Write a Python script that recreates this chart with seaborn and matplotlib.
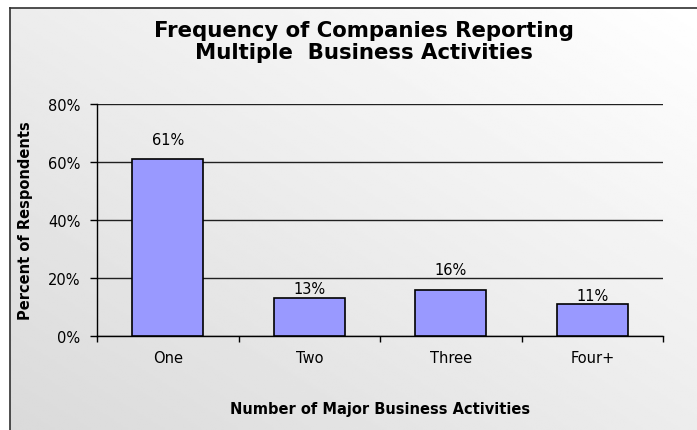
import numpy as np
import pandas as pd
import matplotlib
matplotlib.use("Agg")
import matplotlib.pyplot as plt
from matplotlib.ticker import PercentFormatter, FixedLocator
import seaborn as sns

# Share of respondents by number of major business activities
categories = ["One", "Two", "Three", "Four+"]
percent = [61, 13, 16, 11]
y_ticks = [0, 20, 40, 60, 80]

df = pd.DataFrame({"activities": categories, "percent": percent})

sns.set_style("white")
plt.rcParams["font.family"] = ["DejaVu Sans"]
plt.rcParams["text.color"] = "black"
plt.rcParams["axes.labelcolor"] = "black"
plt.rcParams["xtick.color"] = "black"
plt.rcParams["ytick.color"] = "black"

W, H = 697, 431
fig = plt.figure(figsize=(W / 100, H / 100), dpi=100)
fig.patch.set_facecolor("white")

# Soft diagonal gradient panel with a dark border on the left and top
bg = fig.add_axes([10 / W, 0, 1 - 10 / W, 1 - 9 / H], zorder=0)
gx, gy = np.meshgrid(np.linspace(0, 1, 300), np.linspace(0, 1, 200))
t = np.clip((gx + (1 - gy)) / 2, 0, 1)  # 0 at bottom-left, 1 at top-right
bg.imshow(0.855 + 0.145 * t, cmap="gray", vmin=0, vmax=1, aspect="auto",
          extent=[0, 1, 0, 1], origin="upper", interpolation="bilinear")
bg.set_xlim(0, 1)
bg.set_ylim(0, 1)
bg.set_xticks([])
bg.set_yticks([])
for side in ("right", "bottom"):
    bg.spines[side].set_visible(False)
for side in ("left", "top"):
    bg.spines[side].set_color("#303030")
    bg.spines[side].set_linewidth(1.2)

ax = fig.add_axes([97 / W, 1 - 337 / H, (663 - 97) / W, (337 - 105) / H], zorder=1)
ax.patch.set_alpha(0)

sns.barplot(data=df, x="activities", y="percent", color="#9999ff",
            saturation=1, width=0.5, edgecolor="black", linewidth=1.2, ax=ax,
            zorder=3)

ax.set_ylim(0, 80)
ax.set_xlim(-0.5, 3.5)
ax.yaxis.set_major_locator(FixedLocator(y_ticks))
ax.yaxis.set_major_formatter(PercentFormatter(decimals=0))
ax.grid(axis="y", color="#202020", linewidth=1, zorder=0)
ax.set_axisbelow(True)

for side in ("top", "right"):
    ax.spines[side].set_visible(False)
for side in ("left", "bottom"):
    ax.spines[side].set_color("black")
    ax.spines[side].set_linewidth(1)

ax.tick_params(axis="y", which="major", direction="out", length=5, width=1,
               color="black", labelsize=10.5, pad=7, left=True)
ax.tick_params(axis="x", which="major", length=0, labelsize=10.5, pad=10)
ax.set_xticks(np.arange(-0.5, 4, 1), minor=True)
ax.tick_params(axis="x", which="minor", direction="out", length=4, width=1,
               color="black", bottom=True)

# Value labels above each bar
label_pads = [9, 2, 9, 1]
for bar, val, pad in zip(ax.patches, percent, label_pads):
    ax.annotate(f"{val}%", (bar.get_x() + bar.get_width() / 2, bar.get_height()),
                xytext=(0, pad), textcoords="offset points",
                ha="center", va="bottom", fontsize=10.5, color="black")

ax.set_xlabel("Number of Major Business Activities", fontsize=10.5,
              fontweight="bold", labelpad=26)
ax.set_ylabel("Percent of Respondents", fontsize=10.5, fontweight="bold",
              labelpad=11)

fig.text(0.522, 1 - 42 / H, "Frequency of Companies Reporting\nMultiple  Business Activities",
         ha="center", va="center", fontsize=15.3, fontweight="bold",
         linespacing=1.18)

fig.savefig("out.png", dpi=100)
